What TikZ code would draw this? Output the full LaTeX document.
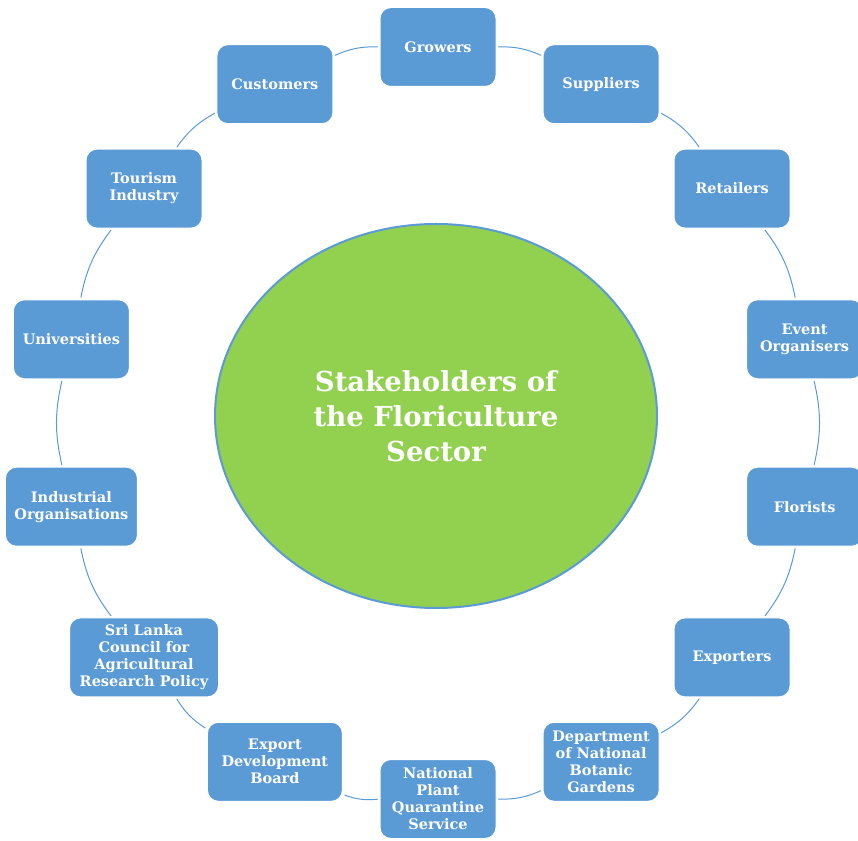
\documentclass[tikz,border=0pt]{standalone}
\usepackage{fontspec}
\setmainfont{DejaVu Serif}
\usetikzlibrary{shapes.geometric}
\definecolor{boxblue}{HTML}{5B9BD5}
\definecolor{hubgreen}{HTML}{92D050}
\tikzset{
	holder/.style={rectangle,rounded corners=11pt,fill=boxblue,draw=white,line width=1pt,minimum width=116pt,minimum height=79pt,inner xsep=7pt,inner ysep=5pt,align=center,text=white,font=\fontsize{14.5}{17}\selectfont\bfseries},
	ring/.style={draw=boxblue,line width=1pt,shorten >=2pt,shorten <=2pt}
}
\begin{document}
\begin{tikzpicture}[line cap=round,line join=round,x=1pt,y=1pt]
	\useasboundingbox (0,0) rectangle (858,840);
	\node[ellipse,fill=hubgreen,draw=boxblue,line width=2pt,minimum width=442pt,minimum height=384pt,align=center,text=white,font=\fontsize{27.5}{35}\selectfont\bfseries] (hub) at (436,424) {Stakeholders of\\the Floriculture\\Sector};
	% the ring of stakeholders, clockwise from the top
	\node[holder] (growers) at (438.0,793.0) {Growers};
	\node[holder] (suppliers) at (601.1,755.8) {Suppliers};
	\node[holder] (retailers) at (732.0,651.4) {Retailers};
	\node[holder] (events) at (804.6,500.7) {Event\\Organisers};
	\node[holder] (florists) at (804.6,333.3) {Florists};
	\node[holder] (exporters) at (732.0,182.6) {Exporters};
	\node[holder] (botanic) at (601.1,78.2) {Department\\of National\\Botanic\\Gardens};
	\node[holder] (quarantine) at (438.0,41.0) {National\\Plant\\Quarantine\\Service};
	\node[holder,minimum width=135pt] (edb) at (274.9,78.2) {Export\\Development\\Board};
	\node[holder,minimum width=149pt] (ctap) at (144.0,182.6) {Sri Lanka\\Council for\\Agricultural\\Research Policy};
	\node[holder,minimum width=132pt] (industry) at (71.4,333.3) {Industrial\\Organisations};
	\node[holder] (unis) at (71.4,500.7) {Universities};
	\node[holder] (tourism) at (144.0,651.4) {Tourism\\Industry};
	\node[holder] (customers) at (274.9,755.8) {Customers};
	% arcs between neighbours
	\draw[ring] (growers) to[bend left=12.86] (suppliers);
	\draw[ring] (suppliers) to[bend left=12.86] (retailers);
	\draw[ring] (retailers) to[bend left=12.86] (events);
	\draw[ring] (events) to[bend left=12.86] (florists);
	\draw[ring] (florists) to[bend left=12.86] (exporters);
	\draw[ring] (exporters) to[bend left=12.86] (botanic);
	\draw[ring] (botanic) to[bend left=12.86] (quarantine);
	\draw[ring] (quarantine) to[bend left=12.86] (edb);
	\draw[ring] (edb) to[bend left=12.86] (ctap);
	\draw[ring] (ctap) to[bend left=12.86] (industry);
	\draw[ring] (industry) to[bend left=12.86] (unis);
	\draw[ring] (unis) to[bend left=12.86] (tourism);
	\draw[ring] (tourism) to[bend left=12.86] (customers);
	\draw[ring] (customers) to[bend left=12.86] (growers);
\end{tikzpicture}
\end{document}
